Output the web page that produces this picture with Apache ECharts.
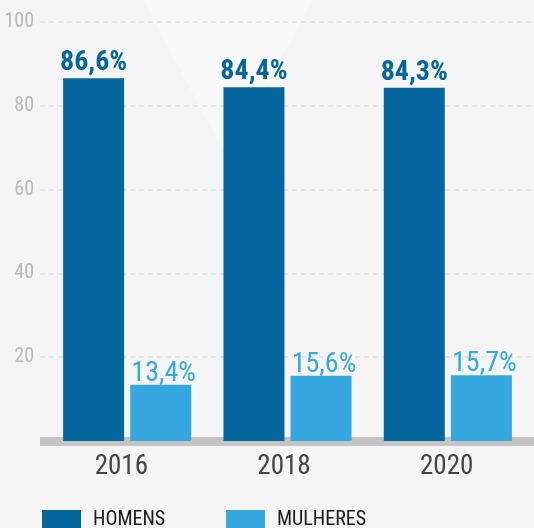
<!DOCTYPE html>
<html>
<head>
<meta charset="utf-8">
<script src="https://cdn.jsdelivr.net/npm/echarts@6/dist/echarts.min.js"></script>
<style>
  html, body { margin: 0; padding: 0; background: #f5f5f5; }
  #chart { width: 534px; height: 528px; }
</style>
</head>
<body>
<div id="chart"></div>
<script>
// Participação por sexo (%)
const years = ['2016', '2018', '2020'];
const homens = [86.6, 84.4, 84.3];
const mulheres = [13.4, 15.6, 15.7];
const yTicks = [0, 20, 40, 60, 80, 100];
const seriesNames = ['HOMENS', 'MULHERES'];

const FONT = "'Roboto Condensed', 'DejaVu Sans Condensed', sans-serif";
const DARK = '#05679d';
const LIGHT = '#35a8e0';

const pct = p => p.value.toFixed(1).replace('.', ',') + '%';

const chart = echarts.init(document.getElementById('chart'), null, { renderer: 'canvas' });

const yBase = {
  type: 'value', min: yTicks[0], max: yTicks[yTicks.length - 1], interval: 20,
  axisLine: { show: false }, axisTick: { show: false }
};

chart.setOption({
  backgroundColor: '#f5f5f5',
  animation: false,
  graphic: [{
    type: 'polygon',
    z: -10,
    silent: true,
    shape: { points: [[143, 0], [312, 0], [228, 160]] },
    style: { fill: '#f9f9f9' }
  }],
  grid: [
    // frame: gridlines, y labels, baseline band
    { left: 40, right: 0, top: 22, bottom: 87 },
    // bars
    { left: 47, right: 6, top: 22, bottom: 87 },
    // year labels
    { left: 40, right: 6, top: 22, bottom: 87 }
  ],
  xAxis: [
    {
      gridIndex: 0, type: 'category', data: years, offset: 4,
      axisLine: { lineStyle: { color: '#c4c4c4', width: 9, cap: 'butt' } },
      axisTick: { show: false }, axisLabel: { show: false }
    },
    {
      gridIndex: 1, type: 'category', data: years,
      axisLine: { show: false }, axisTick: { show: false }, axisLabel: { show: false }
    },
    {
      gridIndex: 2, type: 'category', data: years,
      axisLine: { show: false }, axisTick: { show: false },
      axisLabel: { margin: 13, color: '#444444', fontFamily: FONT, fontSize: 27 }
    }
  ],
  yAxis: [
    Object.assign({}, yBase, {
      gridIndex: 0,
      axisLabel: {
        margin: 6, color: '#b9b9b9', fontFamily: FONT, fontSize: 20,
        formatter: v => (v === 0 ? '' : String(v))
      },
      splitLine: { lineStyle: { color: '#dedede', type: [5, 4], width: 1.5 } }
    }),
    Object.assign({}, yBase, {
      gridIndex: 1, axisLabel: { show: false }, splitLine: { show: false }
    }),
    Object.assign({}, yBase, {
      gridIndex: 2, axisLabel: { show: false }, splitLine: { show: false }
    })
  ],
  legend: [
    {
      data: [seriesNames[0]], left: 42, top: 510, padding: 0,
      icon: 'rect', itemWidth: 39, itemHeight: 20,
      textStyle: { color: '#1a1a1a', fontFamily: FONT, fontSize: 20, padding: [0, 0, 0, 7] }
    },
    {
      data: [seriesNames[1]], left: 226, top: 510, padding: 0,
      icon: 'rect', itemWidth: 39, itemHeight: 20,
      textStyle: { color: '#1a1a1a', fontFamily: FONT, fontSize: 20, padding: [0, 0, 0, 7] }
    }
  ],
  series: [
    {
      name: seriesNames[0], type: 'bar', xAxisIndex: 1, yAxisIndex: 1,
      data: homens, barWidth: 61, barGap: '10%',
      itemStyle: { color: DARK },
      label: {
        show: true, position: 'top', distance: 1, formatter: pct,
        color: DARK, fontFamily: FONT, fontSize: 28, fontWeight: 'bold'
      }
    },
    {
      name: seriesNames[1], type: 'bar', xAxisIndex: 1, yAxisIndex: 1,
      data: mulheres, barWidth: 61, barGap: '10%',
      itemStyle: { color: LIGHT },
      label: {
        show: true, position: 'top', distance: 1, offset: [3, 4], formatter: pct,
        color: LIGHT, fontFamily: FONT, fontSize: 28
      }
    }
  ]
});
</script>
</body>
</html>
